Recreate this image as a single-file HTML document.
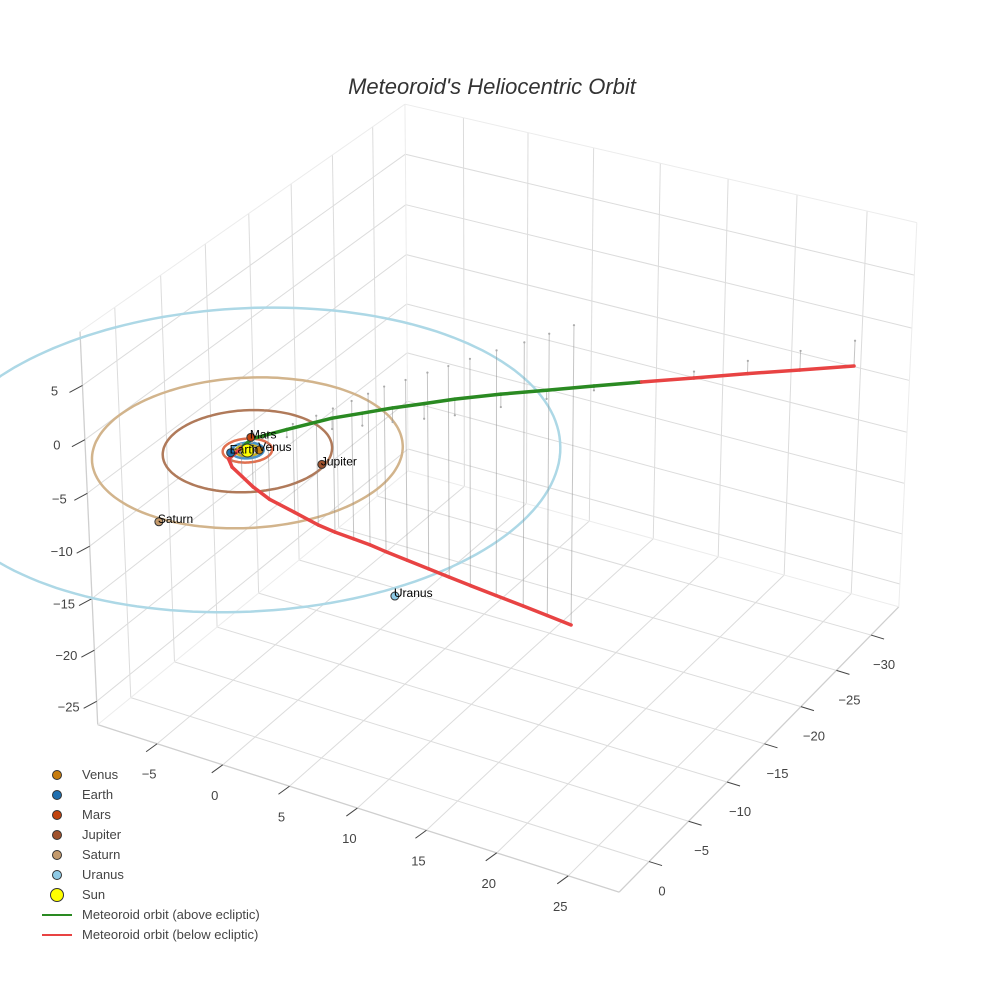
<!DOCTYPE html>
<html><head><meta charset="utf-8">
<style>
html,body{margin:0;padding:0;background:#fff;}
#wrap{position:relative;width:984px;height:984px;overflow:hidden;font-family:"Liberation Sans",sans-serif;}
#title{position:absolute;left:0;width:984px;top:74px;text-align:center;font-size:22px;font-style:italic;color:#333;}
#legend{position:absolute;left:40px;top:765px;font-size:13px;color:#444;}
.li{position:relative;height:20px;line-height:20px;padding-left:42px;}
.dot{position:absolute;left:12px;top:5px;width:8px;height:8px;border-radius:50%;border:1px solid #333;}
.ln{position:absolute;left:2px;top:9px;width:30px;height:2px;}
</style></head>
<body>
<div id="wrap">
<svg id="plot" width="984" height="984" style="position:absolute;left:0;top:0"></svg>
<div id="title">Meteoroid's Heliocentric Orbit</div>
<div id="legend">
 <div class="li"><span class="dot" style="background:#c77c0e"></span>Venus</div>
 <div class="li"><span class="dot" style="background:#1f6fb0"></span>Earth</div>
 <div class="li"><span class="dot" style="background:#c1440e"></span>Mars</div>
 <div class="li"><span class="dot" style="background:#a0522d"></span>Jupiter</div>
 <div class="li"><span class="dot" style="background:#c49a6c"></span>Saturn</div>
 <div class="li"><span class="dot" style="background:#8ecae6"></span>Uranus</div>
 <div class="li"><span class="dot" style="background:#ffff00;left:10px;top:3px;width:12px;height:12px"></span>Sun</div>
 <div class="li"><span class="ln" style="background:#2a8a22"></span>Meteoroid orbit (above ecliptic)</div>
 <div class="li"><span class="ln" style="background:#e84343"></span>Meteoroid orbit (below ecliptic)</div>
</div>
</div>
<script>
// ---- data ----
const xTicks=[-5,0,5,10,15,20,25];
const yTicks=[-30,-25,-20,-15,-10,-5,0];
const zTicks=[-25,-20,-15,-10,-5,0,5];
const planetNames=["Venus","Earth","Mars","Jupiter","Saturn","Uranus"];
const planetX=[0.6,-0.75,-0.74,4.96,0.2,17.1];
const planetY=[-0.4,0.73,-1.5,-0.73,9.9,10.4];
const planetZ=[0,0,0,0,0,0];
const orbitRadii=[0.72,1.0,1.52,5.2,9.54,19.2];
const trajX=[9.3,8.5,7.7,6.7,5.8,5.1,4.4,3.7,2.98,2.6,2.2,1.7,1.3,0.6,-0.2,-0.6,-0.8,-0.9,-0.8,
 -0.35,1.2,3.09,4.5,5.9,7.4,8.84,10.8,12.76,14.8,16.8,19.1,21.4,23.7,26.1];
const trajY=[-24.1,-22.3,-20.5,-18.7,-16.9,-15.4,-14.0,-12.5,-11.1,-9.8,-8.5,-7.1,-5.8,-4.2,-2.6,-1.4,-0.5,0.4,0.9,
 -1.04,-2.6,-4.83,-6.1,-7.4,-8.7,-10.0,-12.3,-14.6,-17.0,-19.3,-22.2,-25.1,-27.9,-30.8];
const trajZ=[-29.6,-27.7,-25.8,-23.9,-22.0,-20.4,-18.9,-17.3,-15.8,-14.4,-13.1,-11.7,-10.3,-8.3,-6.3,-4.5,-3.0,-1.6,-0.5,
 0.3,0.7,1.0,1.15,1.3,1.4,1.5,1.2,0.8,0.4,0.02,-0.6,-1.2,-1.8,-2.4];

// ---- styles ----
const planetColors=["#c77c0e","#1f6fb0","#c1440e","#a0522d","#c49a6c","#8ecae6"];
const orbitColors=["#c8b020","#4a93c8","#e07050","#b07a5a","#d2b48c","#add8e6"];
const XR=[-9.6,28.5],YR=[-34.1,3.7],ZR=[-27.3,9.9];
const corners=[[0,1,0,100,727],[1,1,0,620,895],[1,0,0,897,606],[0,0,0,407,467],
 [0,1,1,80,336],[1,1,1,622,469],[1,0,1,921,230],[0,0,1,404,102]];
const M=[],bv=[];
corners.forEach(c=>{const[X,Y,Z,u0,v0]=c;const u=u0/100,v=v0/100;
 M.push([X,Y,Z,1,0,0,0,0,-u*X,-u*Y,-u*Z]);bv.push(u);
 M.push([0,0,0,0,X,Y,Z,1,-v*X,-v*Y,-v*Z]);bv.push(v);});
const N=11,A=[];
for(let i=0;i<N;i++){A.push([]);for(let j=0;j<=N;j++){let s=0;for(let k=0;k<M.length;k++)s+=M[k][i]*(j<N?M[k][j]:bv[k]);A[i].push(s);}}
for(let i=0;i<N;i++){let p=i;for(let r=i+1;r<N;r++)if(Math.abs(A[r][i])>Math.abs(A[p][i]))p=r;
 [A[i],A[p]]=[A[p],A[i]];for(let r=0;r<N;r++){if(r===i)continue;const f=A[r][i]/A[i][i];for(let j=i;j<=N;j++)A[r][j]-=f*A[i][j];}}
const P=A.map((r,i)=>r[N]/r[i]);
function proj(x,y,z){const X=(x-XR[0])/(XR[1]-XR[0]),Y=(y-YR[0])/(YR[1]-YR[0]),Z=(z-ZR[0])/(ZR[1]-ZR[0]);
 const w=P[8]*X+P[9]*Y+P[10]*Z+1;return[100*(P[0]*X+P[1]*Y+P[2]*Z+P[3])/w,100*(P[4]*X+P[5]*Y+P[6]*Z+P[7])/w];}

const svg=document.getElementById('plot');const NS="http://www.w3.org/2000/svg";
function mk(tag,at){const e=document.createElementNS(NS,tag);for(const k in at)e.setAttribute(k,at[k]);svg.appendChild(e);return e;}
function seg(p,q,col,w,name){const e=mk('line',{x1:p[0],y1:p[1],x2:q[0],y2:q[1],stroke:col,'stroke-width':w});
 
 return e;}
const G="#dcdcdc";
xTicks.forEach(t=>{seg(proj(t,YR[0],ZR[0]),proj(t,YR[1],ZR[0]),G,1,'bottom-gridline-x');});
yTicks.forEach(t=>{seg(proj(XR[0],t,ZR[0]),proj(XR[1],t,ZR[0]),G,1,'bottom-gridline-y');});
yTicks.forEach(t=>{seg(proj(XR[0],t,ZR[0]),proj(XR[0],t,ZR[1]),G,1,'left-wall-gridline-y');});
zTicks.forEach(t=>{seg(proj(XR[0],YR[0],t),proj(XR[0],YR[1],t),G,1,'left-wall-gridline-z');});
xTicks.forEach(t=>{seg(proj(t,YR[0],ZR[0]),proj(t,YR[0],ZR[1]),G,1,'back-wall-gridline-x');});
zTicks.forEach(t=>{seg(proj(XR[0],YR[0],t),proj(XR[1],YR[0],t),G,1,'back-wall-gridline-z');});
const EC="#cfcfcf",EL="#ececec";
seg(proj(XR[0],YR[1],ZR[0]),proj(XR[1],YR[1],ZR[0]),EC,1.3,'x-axis-line');
seg(proj(XR[1],YR[1],ZR[0]),proj(XR[1],YR[0],ZR[0]),EC,1.3,'y-axis-line');
seg(proj(XR[0],YR[1],ZR[0]),proj(XR[0],YR[1],ZR[1]),EC,1.3,'z-axis-line');
seg(proj(XR[0],YR[0],ZR[0]),proj(XR[1],YR[0],ZR[0]),EL,1,'box-edge');
seg(proj(XR[0],YR[0],ZR[0]),proj(XR[0],YR[1],ZR[0]),EL,1,'box-edge');
seg(proj(XR[0],YR[0],ZR[0]),proj(XR[0],YR[0],ZR[1]),EL,1,'box-edge');
seg(proj(XR[1],YR[0],ZR[0]),proj(XR[1],YR[0],ZR[1]),EL,1,'box-edge');
seg(proj(XR[0],YR[1],ZR[1]),proj(XR[0],YR[0],ZR[1]),EL,1,'box-edge');
seg(proj(XR[0],YR[0],ZR[1]),proj(XR[1],YR[0],ZR[1]),EL,1,'box-edge');
function lab(p,txt,name){const e=mk('text',{x:p[0],y:p[1],'text-anchor':'middle','font-size':13,fill:'#444','font-family':'Liberation Sans, sans-serif'});
 e.textContent=txt;
 
 }
const fmt=t=>t<0?'\u2212'+(-t):String(t);
xTicks.forEach(t=>{const p=proj(t,YR[1],ZR[0]);seg(p,[p[0]-11,p[1]+8],'#444',1,'x-tick');lab([p[0]-8,p[1]+35],fmt(t),'x-tick-label');});
yTicks.forEach(t=>{const p=proj(XR[1],t,ZR[0]);seg(p,[p[0]+13,p[1]+4],'#444',1,'y-tick');lab([p[0]+13,p[1]+34],fmt(t),'y-tick-label');});
zTicks.forEach(t=>{const p=proj(XR[0],YR[1],t);seg(p,[p[0]-13,p[1]+7],'#444',1,'z-tick');lab([p[0]-28,p[1]+10],fmt(t),'z-tick-label');});
orbitRadii.forEach((r,i)=>{let d='';for(let k=0;k<=180;k++){const a=k/180*2*Math.PI;const p=proj(r*Math.cos(a),r*Math.sin(a),0);d+=(k?'L':'M')+p[0].toFixed(1)+','+p[1].toFixed(1);}
 const e=mk('path',{d:d,fill:'none',stroke:orbitColors[i],'stroke-width':2.5});
 
 });
trajX.forEach((x,i)=>{const a=proj(x,trajY[i],trajZ[i]),b=proj(x,trajY[i],0);seg(a,b,'rgba(140,140,140,0.5)',1,'drop-line');
 const c=mk('circle',{cx:b[0],cy:b[1],r:1.1,fill:'#aaa'});
 
 });
for(let i=0;i<trajX.length-1;i++){
 const z0=trajZ[i],z1=trajZ[i+1];
 const p0=[trajX[i],trajY[i],z0],p1=[trajX[i+1],trajY[i+1],z1];
 let parts=[[p0,p1]];
 if((z0<0)!==(z1<0)){const f=z0/(z0-z1);const m=[p0[0]+f*(p1[0]-p0[0]),p0[1]+f*(p1[1]-p0[1]),0];parts=[[p0,m],[m,p1]];}
 parts.forEach(pr=>{const above=(pr[0][2]+pr[1][2])/2>=0;
  const e=seg(proj(...pr[0]),proj(...pr[1]),above?'#2a8a22':'#e84343',3.5,above?'orbit-above-segment':'orbit-below-segment');
  e.setAttribute('stroke-linecap','round');});
}
const sp=proj(0,0,0);
const sun=mk('circle',{cx:sp[0],cy:sp[1],r:6.5,fill:'#ffff00',stroke:'#333','stroke-width':1});


planetNames.forEach((n,i)=>{const p=proj(planetX[i],planetY[i],planetZ[i]);
 const c=mk('circle',{cx:p[0],cy:p[1],r:4,fill:planetColors[i],stroke:'#333','stroke-width':1});
 
 
 const t=mk('text',{x:p[0]-1,y:p[1]+1,'font-size':12,fill:'#000','font-family':'Liberation Sans, sans-serif'});
 t.textContent=n;
 
 });
</script>
</body></html>
